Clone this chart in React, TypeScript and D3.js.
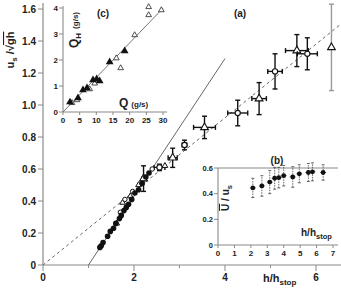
import React from "react";
import * as d3 from "d3";

// main panel (a): filled circles along the solid line
const filledX = [1.25, 1.28, 1.32, 1.42, 1.48, 1.55, 1.6, 1.68, 1.72, 1.78, 1.83, 1.88, 1.95, 2.02, 2.1, 2.18, 2.26, 2.33];
const filledY = [0.11, 0.12, 0.14, 0.18, 0.21, 0.23, 0.26, 0.29, 0.31, 0.34, 0.36, 0.38, 0.41, 0.45, 0.47, 0.51, 0.55, 0.575];

// open small symbols
const openX = [1.62, 1.7, 1.75, 1.8, 1.92, 1.97, 2.1, 2.4, 2.68];
const openY = [0.26, 0.33, 0.39, 0.41, 0.43, 0.46, 0.5, 0.6, 0.62];

// open symbols with error bars
const errX = [2.21, 2.56, 2.85, 3.11, 3.55, 4.28, 4.75, 5.1, 5.58, 5.81, 6.34];
const errY = [0.54, 0.61, 0.67, 0.75, 0.86, 0.95, 1.04, 1.21, 1.34, 1.32, 1.36];
const errDx = [0.03, 0.12, 0.1, 0.05, 0.24, 0.22, 0.16, 0.16, 0.25, 0.22, 0];
const errDy = [0.08, 0.02, 0.06, 0.03, 0.07, 0.08, 0.1, 0.11, 0.1, 0.1, 0.27];

const yTicksMain = [0, 0.2, 0.4, 0.6, 0.8, 1.0, 1.2, 1.4, 1.6];
const xTicksMain = [0, 2, 4, 6];
const xMinorMain = [1, 3, 5];

// inset (c): Q_H vs Q
const cFilledQ = [2.1, 4.5, 6.0, 7.2, 9.0, 10.1, 11, 14, 18.5];
const cFilledQH = [0.38, 0.54, 0.85, 0.92, 1.23, 1.27, 1.19, 1.92, 2.35];
const cOpenQ = [2.7, 4.2, 8, 9.5, 16, 17.3, 21.5, 25.7, 25.7, 29.5];
const cOpenQH = [0.35, 0.46, 0.88, 1.1, 2.07, 1.69, 2.96, 4.04, 3.73, 3.92];
const cTicksX = [0, 5, 10, 15, 20, 25, 30];
const cTicksY = [0, 1, 2, 3, 4];

// inset (b): U/u_s vs h/h_stop
const bX = [2.12, 2.67, 3.15, 3.45, 3.7, 4.0, 4.55, 4.95, 5.5, 5.75, 6.4];
const bY = [0.445, 0.46, 0.49, 0.52, 0.525, 0.54, 0.53, 0.555, 0.565, 0.57, 0.565];
const bDy = [0.075, 0.08, 0.09, 0.085, 0.08, 0.08, 0.08, 0.07, 0.07, 0.07, 0.06];
const bTicksX = [0, 1, 2, 3, 4, 5, 6, 7];
const bTicksY = [0, 0.2, 0.4, 0.6];

const FONT = "'Liberation Sans', Arial, sans-serif";
const AXIS = "#8a8a8a";
const TXT = "#222";

const W = 341;
const H = 293;

export default function App() {
  const x = d3.scaleLinear().domain([0, 6.55]).range([43, 341]);
  const y = d3.scaleLinear().domain([0, 1.6]).range([265, 9]);

  const xc = d3.scaleLinear().domain([0, 30]).range([63, 163]);
  const yc = d3.scaleLinear().domain([0, 4]).range([112, 8]);

  const xb = d3.scaleLinear().domain([0, 7]).range([218, 333]);
  const yb = d3.scaleLinear().domain([0, 0.6]).range([245, 168]);

  const tri = d3.symbol(d3.symbolTriangle, 26)();
  const triSmall = d3.symbol(d3.symbolTriangle, 14)();

  const solid = d3.line<number>().x((d) => x(d)).y((d) => y(0.43 * (d - 1)));
  const dashed = d3.line<number>().x((d) => x(d)).y((d) => y(0.23 * d));
  const cLine = d3.line<number>().x((d) => xc(d)).y((d) => yc(d * 0.133));

  const fmt = (v: number) => (v === 0 ? "0" : v.toFixed(1));

  return (
    <div style={{ position: "absolute", left: 0, top: 0 }}>
      <svg width={W} height={H} style={{ display: "block", background: "#fff" }} fontFamily={FONT}>
        {/* main axes */}
        <line x1={x(0)} x2={W} y1={y(0)} y2={y(0)} stroke={AXIS} strokeWidth={1.2} />
        <line x1={x(0)} x2={x(0)} y1={y(0)} y2={3} stroke={AXIS} strokeWidth={1.2} />
        {yTicksMain.map((t) => (
          <g key={"yt" + t}>
            <line x1={x(0) - 5} x2={x(0)} y1={y(t)} y2={y(t)} stroke={AXIS} />
            <text x={x(0) - 7} y={y(t)} dy="0.35em" textAnchor="end" fontSize={10} fontWeight="bold" fill={TXT}>
              {fmt(t)}
            </text>
          </g>
        ))}
        {xTicksMain.map((t) => (
          <g key={"xt" + t}>
            <line x1={x(t)} x2={x(t)} y1={y(0)} y2={y(0) + 6} stroke={AXIS} />
            <text x={x(t)} y={y(0) + 16} textAnchor="middle" fontSize={10} fontWeight="bold" fill={TXT}>
              {t}
            </text>
          </g>
        ))}
        {xMinorMain.map((t) => (
          <line key={"xm" + t} x1={x(t)} x2={x(t)} y1={y(0)} y2={y(0) + 3} stroke={AXIS} />
        ))}
        <text x={263} y={282} fontSize={11} fontWeight="bold" fill={TXT}>
          h/h<tspan fontSize={8} dy={3}>stop</tspan>
        </text>
        <text transform="translate(14,50) rotate(-90)" textAnchor="middle" fontSize={11} fontWeight="bold" fill={TXT}>
          u<tspan fontSize={8} dy={3}>s</tspan>
          <tspan dy={-3}> /√</tspan>
          <tspan style={{ textDecoration: "overline" }}>gh</tspan>
        </text>
        <text x={240} y={17} textAnchor="middle" fontSize={10} fontWeight="bold" fill={TXT}>
          (a)
        </text>

        {/* lines */}
        <path d={solid([1, 4.0]) || ""} fill="none" stroke="#555" strokeWidth={0.9} />
        <path d={dashed([0, 6.55]) || ""} fill="none" stroke="#666" strokeWidth={1} strokeDasharray="3,3" />

        {/* error-bar points */}
        {errX.map((vx, i) => {
          const last = i === errX.length - 1;
          const col = last ? "#999" : "#111";
          const cx = x(vx);
          const cy = y(errY[i]);
          const x0 = x(vx - errDx[i]);
          const x1 = x(vx + errDx[i]);
          const y0 = y(errY[i] - errDy[i]);
          const y1 = y(errY[i] + errDy[i]);
          return (
            <g key={"e" + i}>
              <g stroke={col} strokeWidth={1.4}>
                <line x1={cx} x2={cx} y1={y0} y2={y1} />
                <line x1={cx - 2.5} x2={cx + 2.5} y1={y0} y2={y0} />
                <line x1={cx - 2.5} x2={cx + 2.5} y1={y1} y2={y1} />
                {errDx[i] > 0 && (
                  <>
                    <line x1={x0} x2={x1} y1={cy} y2={cy} />
                    <line x1={x0} x2={x0} y1={cy - 2.5} y2={cy + 2.5} />
                    <line x1={x1} x2={x1} y1={cy - 2.5} y2={cy + 2.5} />
                  </>
                )}
              </g>
              {i % 2 === 0 ? (
                <path d={tri} transform={`translate(${cx},${cy})`} fill="#fff" stroke="#111" strokeWidth={1.1} />
              ) : (
                <circle cx={cx} cy={cy} r={2.6} fill="#fff" stroke="#111" strokeWidth={1.1} />
              )}
            </g>
          );
        })}
        {openX.map((vx, i) =>
          i % 2 === 0 ? (
            <path key={"o" + i} d={triSmall} transform={`translate(${x(vx)},${y(openY[i])})`} fill="#fff" stroke="#111" strokeWidth={1} />
          ) : (
            <circle key={"o" + i} cx={x(vx)} cy={y(openY[i])} r={2.2} fill="#fff" stroke="#111" strokeWidth={1} />
          )
        )}
        {filledX.map((vx, i) => (
          <circle key={"f" + i} cx={x(vx)} cy={y(filledY[i])} r={2.8} fill="#111" />
        ))}

        {/* inset (c) */}
        <line x1={xc(0)} x2={167} y1={yc(0)} y2={yc(0)} stroke={AXIS} strokeWidth={1.1} />
        <line x1={xc(0)} x2={xc(0)} y1={yc(0)} y2={6} stroke={AXIS} strokeWidth={1.1} />
        {cTicksY.map((t) => (
          <g key={"cy" + t}>
            <line x1={xc(0) - 4} x2={xc(0)} y1={yc(t)} y2={yc(t)} stroke={AXIS} />
            <text x={xc(0) - 5} y={yc(t)} dy="0.35em" textAnchor="end" fontSize={8} fontWeight="bold" fill={TXT}>
              {t}
            </text>
          </g>
        ))}
        {cTicksX.map((t) => (
          <g key={"cx" + t}>
            <line x1={xc(t)} x2={xc(t)} y1={yc(0)} y2={yc(0) + 3} stroke={AXIS} />
            <text x={xc(t)} y={yc(0) + 11} textAnchor="middle" fontSize={8} fontWeight="bold" fill={TXT}>
              {t}
            </text>
          </g>
        ))}
        <path d={cLine([0, 30]) || ""} fill="none" stroke="#666" strokeWidth={0.9} />
        {cOpenQ.map((q, i) => (
          <path key={"co" + i} d={triSmall} transform={`translate(${xc(q)},${yc(cOpenQH[i])})`} fill="#fff" stroke="#222" strokeWidth={0.8} />
        ))}
        {cFilledQ.map((q, i) => (
          <path key={"cf" + i} d={tri} transform={`translate(${xc(q)},${yc(cFilledQH[i])})`} fill="#111" />
        ))}
        <text x={103} y={17} textAnchor="middle" fontSize={10} fontWeight="bold" fill={TXT}>
          (c)
        </text>
        <text x={119} y={107} fontSize={12} fontWeight="bold" fill={TXT}>
          Q<tspan fontSize={8} dx={3}>(g/s)</tspan>
        </text>
        <text transform="translate(78,30) rotate(-90)" textAnchor="middle" fontSize={12} fontWeight="bold" fill={TXT}>
          Q<tspan fontSize={8} dy={3}>H</tspan>
          <tspan fontSize={8} dx={4} dy={-3}>(g/s)</tspan>
        </text>

        {/* inset (b) */}
        <rect x={xb(0)} y={yb(0.6)} width={338 - xb(0)} height={yb(0) - yb(0.6)} fill="#fff" />
        <line x1={xb(0)} x2={338} y1={yb(0)} y2={yb(0)} stroke={AXIS} strokeWidth={1.1} />
        <line x1={xb(0)} x2={338} y1={yb(0.6)} y2={yb(0.6)} stroke={AXIS} strokeWidth={1.1} />
        <line x1={xb(0)} x2={xb(0)} y1={yb(0)} y2={yb(0.6)} stroke={AXIS} strokeWidth={1.1} />
        {bTicksY.map((t) => (
          <g key={"by" + t}>
            <line x1={xb(0) - 4} x2={xb(0)} y1={yb(t)} y2={yb(t)} stroke={AXIS} />
            <text x={xb(0) - 5} y={yb(t)} dy="0.35em" textAnchor="end" fontSize={7.5} fontWeight="bold" fill={TXT}>
              {fmt(t)}
            </text>
          </g>
        ))}
        {bTicksX.map((t) => (
          <g key={"bx" + t}>
            <line x1={xb(t)} x2={xb(t)} y1={yb(0)} y2={yb(0) + 3} stroke={AXIS} />
            <text x={xb(t)} y={yb(0) + 11} textAnchor="middle" fontSize={8} fontWeight="bold" fill={TXT}>
              {t}
            </text>
          </g>
        ))}
        {bX.map((vx, i) => {
          const cx = xb(vx);
          const cy = yb(bY[i]);
          const y0 = yb(bY[i] - bDy[i]);
          const y1 = yb(bY[i] + bDy[i]);
          return (
            <g key={"b" + i} stroke="#444" strokeWidth={0.8}>
              <line x1={cx} x2={cx} y1={y0} y2={y1} strokeDasharray="1.5,1" />
              <line x1={cx - 1.5} x2={cx + 1.5} y1={y0} y2={y0} />
              <line x1={cx - 1.5} x2={cx + 1.5} y1={y1} y2={y1} />
              <line x1={xb(vx - 0.18)} x2={xb(vx + 0.18)} y1={cy} y2={cy} />
              <circle cx={cx} cy={cy} r={2.4} fill="#111" stroke="none" />
            </g>
          );
        })}
        <text x={277} y={164} textAnchor="middle" fontSize={10} fontWeight="bold" fill={TXT}>
          (b)
        </text>
        <text x={301} y={236} fontSize={10} fontWeight="bold" fill={TXT}>
          h/h<tspan fontSize={7.5} dy={3}>stop</tspan>
        </text>
        <text transform="translate(229,198) rotate(-90)" textAnchor="middle" fontSize={10} fontWeight="bold" fill={TXT}>
          <tspan style={{ textDecoration: "overline" }}>U</tspan> / u<tspan fontSize={7.5} dy={3}>s</tspan>
        </text>
      </svg>
    </div>
  );
}
